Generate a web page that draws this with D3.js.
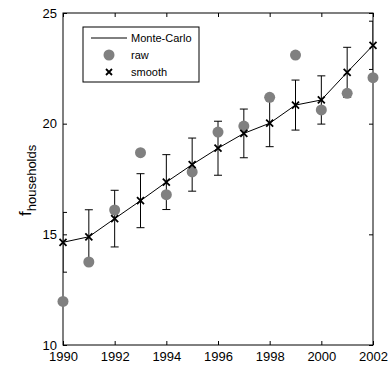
<!DOCTYPE html>
<html>
<head>
<meta charset="utf-8">
<script src="https://cdn.jsdelivr.net/npm/d3@7"></script>
<style>
  body { margin: 0; background: #fff; }
  text { font-family: "Liberation Sans", Arial, sans-serif; fill: #000; }
</style>
</head>
<body>
<div id="chart"></div>
<script>
// values
var years = [1990, 1991, 1992, 1993, 1994, 1995, 1996, 1997, 1998, 1999, 2000, 2001, 2002];
var raw = [11.97, 13.75, 16.10, 18.69, 16.79, 17.82, 19.62, 19.89, 21.19, 23.10, 20.62, 21.37, 22.08];
var smooth = [14.64, 14.89, 15.71, 16.52, 17.36, 18.15, 18.89, 19.56, 20.02, 20.84, 21.07, 22.32, 23.54];
var errHalf = [1.35, 1.22, 1.28, 1.22, 1.24, 1.2, 1.22, 1.1, 1.06, 1.13, 1.09, 1.13, 1.09];
var xTicks = [1990, 1992, 1994, 1996, 1998, 2000, 2002];
var yTicks = [10, 15, 20, 25];
var legendLabels = ["Monte-Carlo", "raw", "smooth"];

var width = 390, height = 365;
var margin = { top: 13, right: 17, bottom: 20, left: 63 };
var w = width - margin.left - margin.right;
var h = height - margin.top - margin.bottom;

var svg = d3.select("#chart").append("svg")
  .attr("width", width)
  .attr("height", height);

var g = svg.append("g")
  .attr("transform", "translate(" + margin.left + "," + margin.top + ")");

var x = d3.scaleLinear().domain([1990, 2002]).range([0, w]);
var y = d3.scaleLinear().domain([10, 25]).range([h, 0]);

svg.append("defs").append("clipPath").attr("id", "plotclip")
  .append("rect").attr("width", w).attr("height", h);

// axes (ticks inside, mirrored on top/right)
var tickLen = 4;
g.append("g").attr("transform", "translate(0," + h + ")")
  .call(d3.axisBottom(x).tickValues(xTicks).tickFormat(d3.format("d")).tickSizeInner(-tickLen).tickSizeOuter(0).tickPadding(7));
g.append("g")
  .call(d3.axisTop(x).tickValues(xTicks).tickFormat("").tickSizeInner(-tickLen).tickSizeOuter(0));
g.append("g")
  .call(d3.axisLeft(y).tickValues(yTicks).tickFormat(d3.format("d")).tickSizeInner(-tickLen).tickSizeOuter(0).tickPadding(6));
g.append("g").attr("transform", "translate(" + w + ",0)")
  .call(d3.axisRight(y).tickValues(yTicks).tickFormat("").tickSizeInner(-tickLen).tickSizeOuter(0));

g.selectAll(".domain").remove();
g.selectAll(".tick line").attr("stroke", "#000");
g.selectAll(".tick text").style("font-size", "13px").attr("fill", "#000");

g.append("rect")
  .attr("width", w).attr("height", h)
  .attr("fill", "none").attr("stroke", "#000").attr("stroke-width", 1);

// error bars
var capW = 4;
var eb = g.append("g").attr("clip-path", "url(#plotclip)")
  .selectAll(".eb").data(years).enter().append("g").attr("class", "eb");
eb.append("line")
  .attr("x1", function(d) { return x(d); }).attr("x2", function(d) { return x(d); })
  .attr("y1", function(d, i) { return y(smooth[i] + errHalf[i]); })
  .attr("y2", function(d, i) { return y(smooth[i] - errHalf[i]); })
  .attr("stroke", "#000");
eb.append("line")
  .attr("x1", function(d) { return x(d) - capW; }).attr("x2", function(d) { return x(d) + capW; })
  .attr("y1", function(d, i) { return y(smooth[i] + errHalf[i]); })
  .attr("y2", function(d, i) { return y(smooth[i] + errHalf[i]); })
  .attr("stroke", "#000");
eb.append("line")
  .attr("x1", function(d) { return x(d) - capW; }).attr("x2", function(d) { return x(d) + capW; })
  .attr("y1", function(d, i) { return y(smooth[i] - errHalf[i]); })
  .attr("y2", function(d, i) { return y(smooth[i] - errHalf[i]); })
  .attr("stroke", "#000");

// raw points
g.selectAll(".raw").data(years).enter().append("circle")
  .attr("class", "raw")
  .attr("cx", function(d) { return x(d); })
  .attr("cy", function(d, i) { return y(raw[i]); })
  .attr("r", 5.5)
  .attr("fill", "#808080");

// smooth line
var line = d3.line()
  .x(function(d) { return x(d); })
  .y(function(d, i) { return y(smooth[i]); });
g.append("path").datum(years)
  .attr("d", line)
  .attr("fill", "none").attr("stroke", "#000").attr("stroke-width", 1);

function xMark(sel, s) {
  sel.append("path")
    .attr("d", "M" + (-s) + "," + (-s) + "L" + s + "," + s + "M" + (-s) + "," + s + "L" + s + "," + (-s))
    .attr("stroke", "#000").attr("stroke-width", 1.8).attr("fill", "none");
}
g.selectAll(".sm").data(years).enter().append("g")
  .attr("class", "sm")
  .attr("transform", function(d, i) { return "translate(" + x(d) + "," + y(smooth[i]) + ")"; })
  .call(xMark, 3.5);

// legend
var leg = svg.append("g").attr("transform", "translate(83,27)");
leg.append("rect").attr("width", 116).attr("height", 55)
  .attr("fill", "#fff").attr("stroke", "#000").attr("stroke-width", 1);
var rows = leg.selectAll(".row").data(legendLabels).enter().append("g")
  .attr("transform", function(d, i) { return "translate(0," + (11 + i * 17) + ")"; });
rows.append("text").attr("x", 48).attr("dy", "0.35em")
  .style("font-size", "11px").text(function(d) { return d; });
rows.filter(function(d, i) { return i === 0; }).append("line")
  .attr("x1", 8).attr("x2", 44).attr("stroke", "#000");
rows.filter(function(d, i) { return i === 1; }).append("circle")
  .attr("cx", 26).attr("r", 5.5).attr("fill", "#808080");
rows.filter(function(d, i) { return i === 2; }).append("g")
  .attr("transform", "translate(26,0)").call(xMark, 3);

// y label
var yl = svg.append("text")
  .attr("transform", "translate(31,216) rotate(-90)")
  .style("font-size", "17px");
yl.append("tspan").text("f");
yl.append("tspan").attr("dy", 5).style("font-size", "13px").text("households");
</script>
</body>
</html>
